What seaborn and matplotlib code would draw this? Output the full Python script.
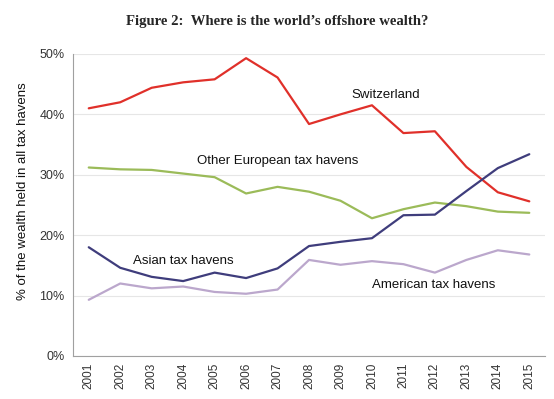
import matplotlib
matplotlib.use("Agg")
import matplotlib.pyplot as plt
import seaborn as sns
import pandas as pd
from matplotlib.ticker import FixedLocator, FuncFormatter

# data (% of offshore wealth)
years = list(range(2001, 2016))
switzerland = [41.0, 42.0, 44.4, 45.3, 45.8, 49.3, 46.1, 38.4, 40.0, 41.5, 36.9, 37.2, 31.3, 27.1, 25.6]
other_europe = [31.2, 30.9, 30.8, 30.2, 29.6, 26.9, 28.0, 27.2, 25.7, 22.8, 24.3, 25.4, 24.8, 23.9, 23.7]
asia = [18.0, 14.6, 13.1, 12.4, 13.8, 12.9, 14.5, 18.2, 18.9, 19.5, 23.3, 23.4, 27.3, 31.1, 33.4]
america = [9.3, 12.0, 11.2, 11.5, 10.6, 10.3, 11.0, 15.9, 15.1, 15.7, 15.2, 13.8, 15.9, 17.5, 16.8]

series = ["Switzerland", "Other European tax havens", "Asian tax havens", "American tax havens"]
colors = ["#E0302A", "#9BBB59", "#3F3D7C", "#BBA7CC"]

df = pd.DataFrame({"year": years * 4,
                   "share": switzerland + other_europe + asia + america,
                   "region": [s for s in series for _ in years]})

sns.set_style("white")
plt.rcParams["font.family"] = ["Liberation Sans", "DejaVu Sans"]

fig = plt.figure(figsize=(5.54, 3.99), dpi=100)
ax = fig.add_axes([0.1318, 0.1078, 0.852, 0.757])

sns.lineplot(data=df, x="year", y="share", hue="region", palette=colors,
             hue_order=series, linewidth=1.6, legend=False, ax=ax)

ax.set_xlim(2000.5, 2015.5)
ax.set_ylim(0, 50)
ax.set_yticks([0, 10, 20, 30, 40, 50])
ax.yaxis.set_major_formatter(FuncFormatter(lambda v, p: f"{v:.0f}%"))
ax.set_xticks(years)
ax.set_xticklabels([str(y) for y in years], rotation=90)
ax.xaxis.set_minor_locator(FixedLocator([y + 0.5 for y in range(2000, 2016)]))
ax.tick_params(axis="x", which="major", length=0, labelsize=8.5, colors="#333333", pad=5)
ax.tick_params(axis="x", which="minor", length=4, color="#999999", direction="out")
ax.tick_params(axis="y", length=0, labelsize=9, colors="#333333", pad=6)
ax.grid(axis="y", color="#E6E6E6", linewidth=0.8)
ax.set_axisbelow(True)
for s in ["top", "right"]:
    ax.spines[s].set_visible(False)
for s in ["left", "bottom"]:
    ax.spines[s].set_color("#A0A0A0")
    ax.spines[s].set_linewidth(0.8)

ax.set_xlabel("")
ax.set_ylabel("% of the wealth held in all tax havens", fontsize=9.5, color="#111111")
ax.yaxis.set_label_coords(-0.093, 0.546)

ax.text(2010.45, 43.2, "Switzerland", ha="center", va="center", fontsize=9.5, color="#111111")
ax.text(2007.0, 32.2, "Other European tax havens", ha="center", va="center", fontsize=9.5, color="#111111")
ax.text(2004.0, 15.7, "Asian tax havens", ha="center", va="center", fontsize=9.5, color="#111111")
ax.text(2011.95, 11.7, "American tax havens", ha="center", va="center", fontsize=9.5, color="#111111")

fig.text(0.5, 0.945, "Figure 2:  Where is the world\u2019s offshore wealth?", ha="center", va="center",
         fontsize=10.6, fontweight="bold", family=["Liberation Serif", "DejaVu Serif"])

fig.savefig("out.png", dpi=100)
